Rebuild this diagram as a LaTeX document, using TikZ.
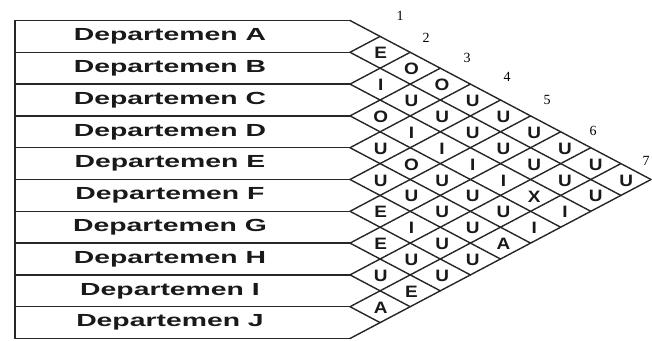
\documentclass[tikz,border=0pt]{standalone}
\usepackage{fontspec}
\setmainfont{Liberation Serif}
\setsansfont{Liberation Sans}
\usepackage{graphicx}

\tikzset{
  gridline/.style={line width=1.4pt, draw=black!85},
  dept/.style={anchor=center, inner sep=0pt, text=black!90, font=\sffamily\bfseries\fontsize{17.5}{20}\selectfont},
  rel/.style={anchor=center, inner sep=0pt, text=black!90, font=\sffamily\bfseries\fontsize{16.5}{20}\selectfont},
  idx/.style={anchor=center, inner sep=0pt, font=\rmfamily\fontsize{14}{16}\selectfont},
}
% stretch text sideways, the scan is wide
\newcommand{\widen}[2]{\scalebox{#1}[1]{#2}}

\begin{document}
\begin{tikzpicture}[x=1pt, y=-1pt, line cap=round, line join=round]
  \def\xl{15} \def\xo{350} \def\yo{20.5} \def\rh{31.8} \def\hw{30.1}

  %% ════ department rows ════
  \draw[gridline] (\xl,\yo) -- (\xl,\yo+10*\rh);
  \foreach \k in {0,...,10}
    \draw[gridline] (\xl,\yo+\k*\rh) -- (\xo,\yo+\k*\rh);

  %% ════ diamond lattice ════
  \foreach \k in {0,...,10} {
    \draw[gridline] (\xo,\yo+\k*\rh) -- ++({(10-\k)*\hw},{(10-\k)*\rh/2});
    \draw[gridline] (\xo,\yo+\k*\rh) -- ++({\k*\hw},{-\k*\rh/2});
  }

  %% ════ department names ════
  \foreach \name [count=\i] in {A,...,J}
    \node[dept] (dept\name) at (170,{\yo+(\i-0.5)*\rh}) {\widen{1.62}{Departemen \name}};

  %% ════ closeness codes, one diagonal per list ════
  \foreach \d/\codes in {1/{E,I,O,U,U,E,E,U,A}, 2/{O,U,I,O,U,I,U,E}, 3/{O,U,I,U,U,U,U},
                         4/{U,U,I,U,U,U}, 5/{U,U,I,U,A}, 6/{U,U,X,I}, 7/{U,U,I}, 8/{U,U}, 9/{U}} {
    \foreach \c [count=\i from 0] in \codes
      \node[rel] (rel-\d-\i) at ({\xo+\d*\hw+0.6*\d},{\yo+(\i+(\d+1)/2)*\rh+1}) {\widen{1.15}{\c}};
  }

  %% ════ column numbers ════
  \foreach \n/\px/\py in {1/400/16, 2/426/38, 3/467/58, 4/507/77, 5/547/100, 6/593/131, 7/646/161}
    \node[idx] (idx\n) at (\px,\py) {\n};

  \pgfresetboundingbox
  \path[use as bounding box] (0,0) rectangle (652,340);
\end{tikzpicture}
\end{document}
